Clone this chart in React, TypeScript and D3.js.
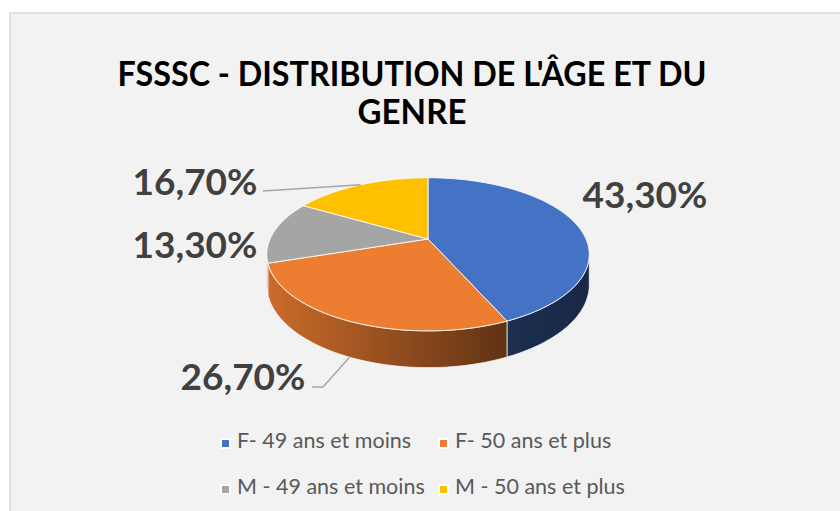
import React from 'react';
import * as d3 from 'd3';

// chart data
const categories = ['F- 49 ans et moins', 'F- 50 ans et plus', 'M - 49 ans et moins', 'M - 50 ans et plus'];
const values = [43.3, 26.7, 13.3, 16.7];
const colors = ['#4472c4', '#ed7d31', '#a5a5a5', '#ffc000'];
const title = ["FSSSC - DISTRIBUTION DE L'ÂGE ET DU", 'GENRE'];

const W = 840;
const H = 511;

// 3d pie projection (perspective tilt)
const cx = 428;
const cy = 239;
const rx = 158;
const ry = 73.5;
const persp = -0.2;
const depth = 29.4;

const proj = (t: number, r = 1) => {
  const u = r * Math.sin(t);
  const v = -r * Math.cos(t);
  const s = 1 / (1 + persp * v);
  return { x: cx + rx * u * s, y: cy + ry * v * s, s };
};

// front side of the wall is visible between these angles
const sideFrom = Math.acos(persp);
const sideTo = 2 * Math.PI - sideFrom;

const fmt = (v: number) => v.toFixed(2).replace('.', ',') + '%';

// label layout (text anchor middle, baseline)
const labelPos = [[645, 208], [243, 390], [195, 258], [195, 195]];
const legendCols = [222, 440];
const legendRows = [440, 486];

const sample = (a0: number, a1: number) => {
  const n = Math.max(2, Math.ceil(((a1 - a0) / Math.PI) * 120));
  return d3.range(n + 1).map(i => a0 + ((a1 - a0) * i) / n);
};

const shade = (c: string, f: number) => {
  const r = d3.rgb(c);
  return d3.rgb(r.r * f, r.g * f, r.b * f).formatHex();
};

const App = () => {
  const arcs = d3.pie<number>().sort(null).value(d => d)(values);
  const line = d3.line<{ x: number; y: number }>().x(d => d.x).y(d => d.y);

  const left = cx - rx * 1.02;
  const right = cx + rx * 1.02;
  const brightness = [[0, 0.86], [0.74, 0.41], [1, 0.35]];

  const tops = arcs.map(a => {
    const pts = [{ x: cx, y: cy }, ...sample(a.startAngle, a.endAngle).map(t => proj(t))];
    return line(pts) + 'Z';
  });

  const sides = arcs.map(a => {
    const s0 = Math.max(a.startAngle, sideFrom);
    const s1 = Math.min(a.endAngle, sideTo);
    if (s1 <= s0) return null;
    const ts = sample(s0, s1);
    const top = ts.map(t => proj(t));
    const bottom = ts.map(t => { const p = proj(t); return { x: p.x, y: p.y + depth * p.s }; }).reverse();
    return line([...top, ...bottom]) + 'Z';
  });

  const mid = (i: number) => (arcs[i].startAngle + arcs[i].endAngle) / 2;
  const yellowRim = proj(mid(3));
  const orangeRim = (() => { const p = proj(mid(1)); return { x: p.x, y: p.y + depth * p.s }; })();

  return (
    <svg width={W} height={H} style={{ position: 'absolute', left: 0, top: 0 }}>
      <defs>
        {colors.map((c, i) => (
          <linearGradient key={i} id={`side${i}`} gradientUnits="userSpaceOnUse" x1={left} x2={right} y1={0} y2={0}>
            {brightness.map(([o, f], j) => (
              <stop key={j} offset={o} stopColor={shade(c, f)} />
            ))}
          </linearGradient>
        ))}
      </defs>
      <rect x={0} y={0} width={W} height={H} fill="#fff" />
      <rect x={10} y={13} width={W + 10} height={H + 10} fill="#f2f2f2" stroke="#d9d9d9" strokeWidth={1.5} />

      <g fontFamily="Lato, 'Open Sans', sans-serif" fontWeight="bold" fill="#000" textAnchor="middle">
        <text x={412} y={86} fontSize={35} textLength={589} lengthAdjust="spacingAndGlyphs">{title[0]}</text>
        <text x={412} y={124} fontSize={35} textLength={109} lengthAdjust="spacingAndGlyphs">{title[1]}</text>
      </g>

      <g>
        {sides.map((d, i) => d && (
          <path key={i} d={d} fill={`url(#side${i})`} stroke="#fff" strokeOpacity={0.7} strokeWidth={1} />
        ))}
        {tops.map((d, i) => (
          <path key={i} d={d} fill={colors[i]} stroke="#fff" strokeOpacity={0.85} strokeWidth={1} />
        ))}
      </g>

      <g stroke="#a6a6a6" strokeWidth={1.5} fill="none">
        <polyline points={`${labelPos[3][0] + 68},${labelPos[3][1] - 4} ${yellowRim.x},${yellowRim.y}`} />
        <polyline points={`${labelPos[1][0] + 69},${labelPos[1][1] - 3} ${labelPos[1][0] + 80},${labelPos[1][1] - 3} ${orangeRim.x},${orangeRim.y}`} />
      </g>

      <g fontFamily="Lato, 'Open Sans', sans-serif" fontWeight="bold" fontSize={37} fill="#404040" textAnchor="middle">
        {values.map((v, i) => (
          <text key={i} x={labelPos[i][0]} y={labelPos[i][1]}>{fmt(v)}</text>
        ))}
      </g>

      <g fontFamily="Lato, 'Open Sans', sans-serif" fontSize={21.5} fill="#595959">
        {categories.map((c, i) => {
          const x = legendCols[i % 2];
          const y = legendRows[Math.floor(i / 2)];
          return (
            <g key={i} transform={`translate(${x},${y})`}>
              <rect x={-2} y={-2} width={11} height={11} fill="#fff" />
              <rect x={0} y={0} width={7} height={7} fill={colors[i]} />
              <text x={15} y={7.5}>{c}</text>
            </g>
          );
        })}
      </g>
    </svg>
  );
};

export default App;
